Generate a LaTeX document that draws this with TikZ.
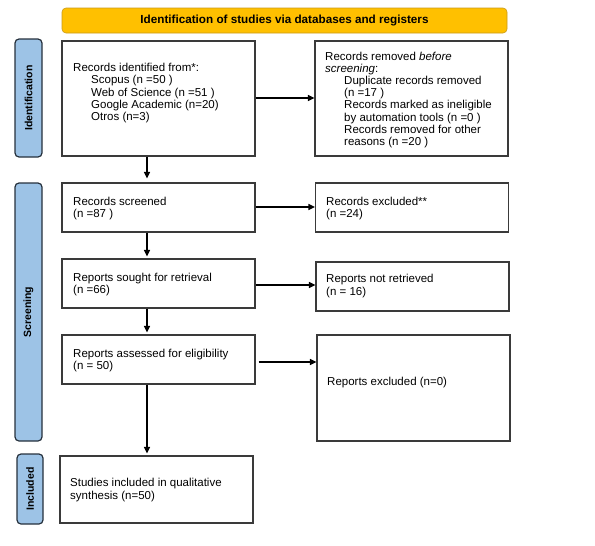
\documentclass[tikz,border=0pt]{standalone}
\usepackage{fontspec}
\setmainfont{Liberation Sans}
\usetikzlibrary{arrows.meta}
\definecolor{hdrfill}{HTML}{FFC000}
\definecolor{hdrdraw}{HTML}{C99A1A}
\definecolor{sidefill}{HTML}{9DC3E6}
\definecolor{sidedraw}{HTML}{26313D}
\definecolor{boxdraw}{HTML}{3A3A3A}
\tikzset{
  box/.style={draw=boxdraw, line width=1.1pt, fill=white, inner sep=0pt},
  side/.style={draw=sidedraw, fill=sidefill, line width=1.2pt, rounded corners=4pt, inner sep=0pt},
  hdr/.style={draw=hdrdraw, fill=hdrfill, line width=0.6pt, rounded corners=4pt, inner sep=0pt},
  txt/.style={anchor=north west, inner sep=0pt, align=left, font=\fontsize{11.5}{12.2}\selectfont},
  sidetxt/.style={rotate=90, font=\fontsize{10.5}{12}\selectfont\bfseries},
  arr/.style={-{Triangle[length=6.5pt,width=6pt]}, line width=1.3pt, draw=black}
}
\begin{document}
\begin{tikzpicture}[x=1pt,y=-1pt]
\useasboundingbox (0,0) rectangle (595,546);
% header
\node[hdr, minimum width=445pt, minimum height=25pt] (hdr) at (284.5,20.5) {};
\node[font=\fontsize{11.7}{12}\selectfont\bfseries, inner sep=0pt] (hdrt) at (hdr.center) {Identification of studies via databases and registers};
% side labels
\node[side, minimum width=27pt, minimum height=118pt] (sid) at (28.5,98) {};
\node[sidetxt] (sidt) at (sid.center) {Identification};
\node[side, minimum width=27pt, minimum height=258pt] (sscr) at (28.5,312) {};
\node[sidetxt] (sscrt) at (sscr.center) {Screening};
\node[side, minimum width=26pt, minimum height=70pt] (sinc) at (30,489) {};
\node[sidetxt] (sinct) at (sinc.center) {Included};
% boxes
\node[box, minimum width=193pt, minimum height=115pt] (ident) at (158.5,98.5) {};
\node[box, minimum width=193pt, minimum height=115pt] (remv) at (411.5,98.5) {};
\node[box, minimum width=193pt, minimum height=49pt] (scr) at (158.5,207.5) {};
\node[box, minimum width=193pt, minimum height=49pt] (excl) at (412,207.5) {};
\node[box, minimum width=193pt, minimum height=49pt] (sought) at (158.5,283.5) {};
\node[box, minimum width=193pt, minimum height=49pt] (notret) at (412.5,286.5) {};
\node[box, minimum width=193pt, minimum height=49pt] (assess) at (158.5,359.5) {};
\node[box, minimum width=193pt, minimum height=106pt] (repexcl) at (413.5,388) {};
\node[box, minimum width=193pt, minimum height=67pt] (incl) at (156.5,489.5) {};
% texts
\node[txt] (identt) at (73,63.1) {Records identified from*:\\
\hspace*{18pt}Scopus (n =50 )\\
\hspace*{18pt}Web of Science (n =51 )\\
\hspace*{18pt}Google Academic (n=20)\\
\hspace*{18pt}Otros (n=3)};
\node[txt] (remvt) at (325,51.6) {Records removed \textit{before}\\
\textit{screening}:\\
\hspace*{19pt}Duplicate records removed\\
\hspace*{19pt}(n =17 )\\
\hspace*{19pt}Records marked as ineligible\\
\hspace*{19pt}by automation tools (n =0 )\\
\hspace*{19pt}Records removed for other\\
\hspace*{19pt}reasons (n =20 )};
\node[txt] (scrt) at (73,196.6) {Records screened\\(n =87 )};
\node[txt] (exclt) at (326,196.6) {Records excluded**\\(n =24)};
\node[txt] (soughtt) at (73,272.6) {Reports sought for retrieval\\(n =66)};
\node[txt] (notrett) at (326,274.3) {Reports not retrieved\\(n = 16)};
\node[txt] (assesst) at (73,348.6) {Reports assessed for eligibility\\(n = 50)};
\node[txt] (repexclt) at (327,376.6) {Reports excluded (n=0)};
\node[txt] (inclt) at (70,478.3) {Studies included in qualitative\\synthesis (n=50)};
% connectors
\coordinate (ax) at (147,0);
\coordinate (y1) at (0,98);
\coordinate (y2) at (0,207);
\coordinate (y3) at (0,285);
\coordinate (y4) at (0,362);
\draw[arr] (ident.east |- y1) -- (remv.west |- y1);
\draw[arr] (scr.east |- y2) -- (excl.west |- y2);
\draw[arr] (sought.east |- y3) -- (notret.west |- y3);
\draw[arr] ([xshift=3pt]assess.east |- y4) -- (repexcl.west |- y4);
\draw[arr, shorten >=4pt] (ident.south -| ax) -- (scr.north -| ax);
\draw[arr, shorten >=2pt] (scr.south -| ax) -- (sought.north -| ax);
\draw[arr, shorten >=2pt] (sought.south -| ax) -- (assess.north -| ax);
\draw[arr, shorten >=2pt] (assess.south -| ax) -- (incl.north -| ax);
\end{tikzpicture}
\end{document}
